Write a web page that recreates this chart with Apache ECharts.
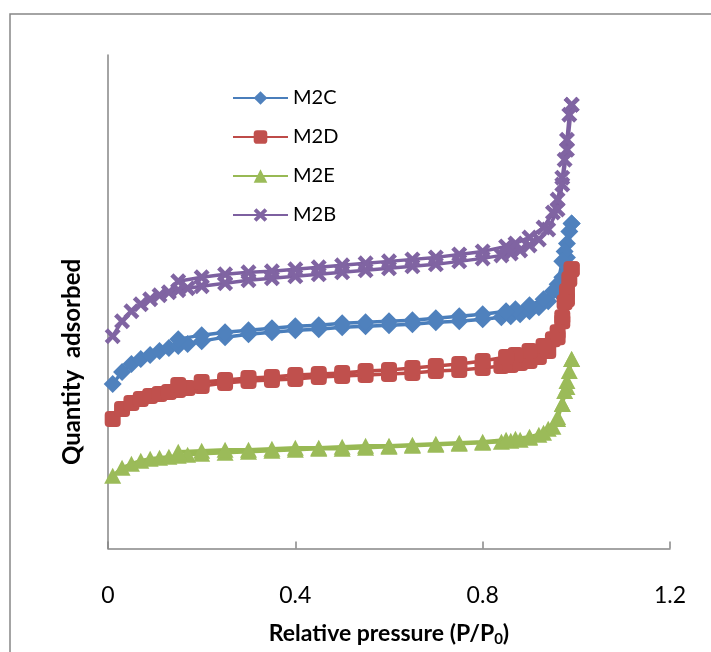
<!DOCTYPE html>
<html>
<head>
<meta charset="utf-8">
<script src="https://cdn.jsdelivr.net/npm/echarts@6/dist/echarts.min.js"></script>
<style>
html,body{margin:0;padding:0;background:#fff;}
#myChart{width:711px;height:652px;}
</style>
</head>
<body>
<div id="myChart"></div>
<script>
/*x values: adsorption branch, then desorption branch*/
var adsX = [0.01,0.03,0.05,0.07,0.09,0.11,0.13,0.15,0.17,0.2,0.25,0.3,0.35,0.4,0.45,0.5,0.55,0.6,0.65,0.7,0.75,0.8,0.84,0.86,0.88,0.9,0.92,0.94,0.96,0.97,0.98,0.99];
var desX = [0.99,0.985,0.98,0.975,0.97,0.96,0.95,0.93,0.9,0.87,0.85,0.8,0.75,0.7,0.65,0.6,0.55,0.5,0.45,0.4,0.35,0.3,0.25,0.2,0.15];

var m2cAds = [165,177,185,190,194,198,201,203,205,208,212,215,217,219,220,222,223,224,225,227,228,230,232,233,235,238,242,248,258,272,292,326];
var m2cDes = [326,318,306,298,288,265,258,250,244,240,238,235,233,231,229,228,227,226,224,223,221,219,217,214,210];

var m2dAds = [130,140,146,150,153,155,157,159,161,163,166,168,169,170,172,173,174,175,176,178,179,181,183,184,186,188,192,198,212,228,250,280];
var m2dDes = [280,270,258,247,232,217,210,203,198,194,192,188,185,183,181,179,178,176,175,174,172,171,169,167,164];

var m2eAds = [73,81,85,88,90,91,92,93,94,95,96,97,98,99,100,100,101,102,103,104,105,106,107,108,109,111,114,120,132,145,162,190];
var m2eDes = [190,178,168,158,145,130,122,116,112,110,109,107,106,105,104,103,103,102,101,101,100,99,99,98,97];

var m2bAds = [213,228,238,245,250,254,257,259,261,263,266,269,271,273,275,277,279,281,283,285,288,291,294,296,299,304,310,320,340,365,400,445];
var m2bDes = [445,435,410,390,372,350,337,322,312,306,303,298,295,292,290,288,286,284,282,280,278,277,275,272,268];

var names = ['M2C','M2D','M2E','M2B'];

var crossPath = 'path://M2,0 L5,3 L8,0 L10,2 L7,5 L10,8 L8,10 L5,7 L2,10 L0,8 L3,5 L0,2 Z';

function pts(ax,ay,dx,dy){
    var arr = [];
    for (var i = 0; i < ax.length; ++i) arr.push([ax[i],ay[i]]);
    for (var j = 0; j < dx.length; ++j) arr.push([dx[j],dy[j]]);
    return arr;
}

var myChart = echarts.init(document.getElementById('myChart'));

var lineColors = ['#4A7EBB','#BE4B48','#98B954','#7D60A0'];
var markColors = ['#4F81BD','#C0504D','#9BBB59','#8064A2'];
var symbols = ['diamond','roundRect','triangle',crossPath];
var sizes = [[18,18],[16,16],[17,16],[16,16]];
var datas = [
    pts(adsX,m2cAds,desX,m2cDes),
    pts(adsX,m2dAds,desX,m2dDes),
    pts(adsX,m2eAds,desX,m2eDes),
    pts(adsX,m2bAds,desX,m2bDes)
];

var series = [];
for (var i = 0; i < names.length; ++i) {
    series.push({
        type: 'line',
        name: names[i],
        data: datas[i],
        symbol: symbols[i],
        symbolSize: sizes[i],
        showAllSymbol: true,
        silent: true,
        animation: false,
        lineStyle: {color: lineColors[i], width: 3.5},
        itemStyle: {color: markColors[i], borderColor: markColors[i], borderWidth: 0}
    });
}

myChart.setOption({
    backgroundColor: '#fff',
    graphic: [{
        type: 'rect',
        shape: {x: 10, y: 14, width: 760, height: 700},
        style: {fill: 'none', stroke: '#868686', lineWidth: 1.5},
        silent: true
    }, {
        /*y axis title sits lower than the axis middle*/
        type: 'text',
        x: 72, y: 362,
        rotation: Math.PI / 2,
        style: {
            text: 'Quantity  adsorbed',
            fontFamily: 'Lato', fontWeight: 'bold', fontSize: 24, fill: '#000',
            align: 'center', verticalAlign: 'middle'
        },
        silent: true
    }],
    legend: {
        data: names,
        orient: 'vertical',
        left: 227,
        top: 83,
        itemWidth: 55,
        itemHeight: 17,
        itemGap: 19,
        textStyle: {fontFamily: 'Lato', fontSize: 20, color: '#000'}
    },
    grid: {left: 108, right: 41, top: 55, bottom: 102},
    xAxis: {
        type: 'value',
        min: 0, max: 1.2, interval: 0.4,
        name: '{a|Relative pressure (P/P}{s|0}{a|)}',
        nameLocation: 'middle',
        nameGap: 72,
        nameTextStyle: {
            rich: {
                a: {fontFamily: 'Lato', fontWeight: 'bold', fontSize: 23, color: '#000', lineHeight: 26},
                s: {fontFamily: 'Lato', fontWeight: 'bold', fontSize: 15, color: '#000', lineHeight: 26, padding: [12,0,0,0]}
            }
        },
        axisLine: {lineStyle: {color: '#868686', width: 1.5}},
        axisTick: {inside: true, length: 7, lineStyle: {color: '#868686', width: 1.5}},
        axisLabel: {
            margin: 36, fontFamily: 'Lato', fontSize: 23, color: '#000',
            formatter: function(v){ return String(v); }
        },
        splitLine: {show: false}
    },
    yAxis: {
        type: 'value',
        min: 0, max: 495,
        axisLine: {show: true, lineStyle: {color: '#868686', width: 1.5}},
        axisTick: {show: false},
        axisLabel: {show: false},
        splitLine: {show: false}
    },
    series: series
});
</script>
</body>
</html>
